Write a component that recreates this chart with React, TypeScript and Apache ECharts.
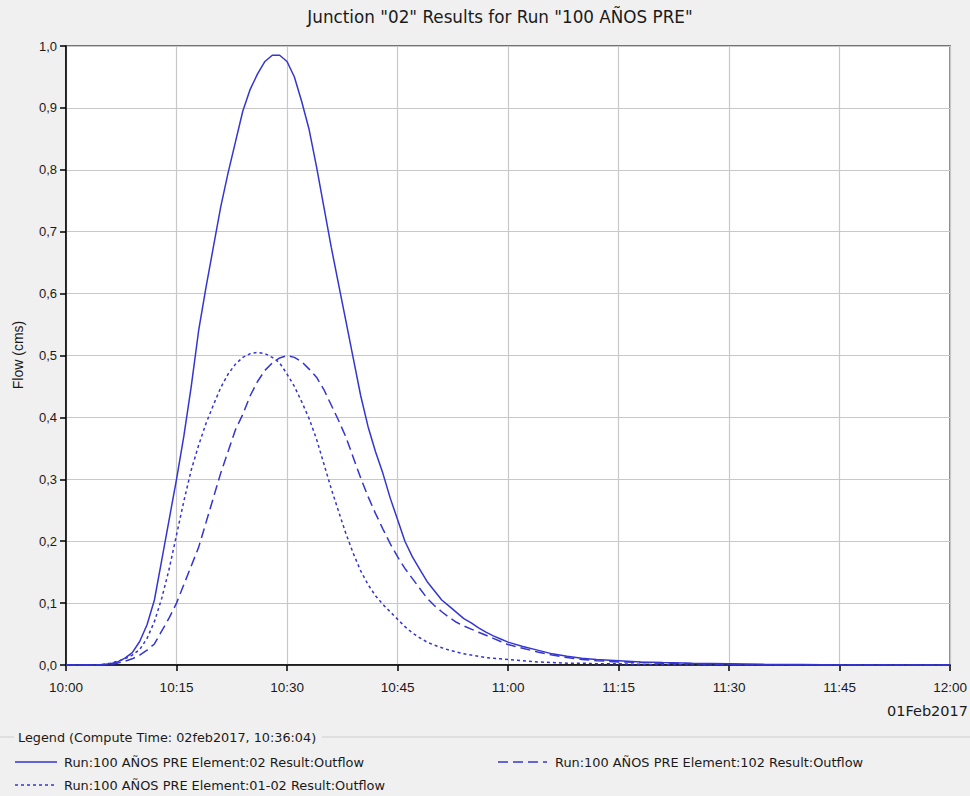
import React, { useEffect, useRef } from "react";
import * as echarts from "echarts";

// Time in minutes after 10:00 (01Feb2017)
const minutes: number[] = [
  0, 1, 2, 3, 4, 5, 6, 7, 8, 9, 10, 11, 12, 13, 14, 15, 16, 17, 18, 19, 20,
  21, 22, 23, 24, 25, 26, 27, 28, 29, 30, 31, 32, 33, 34, 35, 36, 37, 38, 39, 40,
  41, 42, 43, 44, 45, 46, 47, 48, 49, 50, 51, 52, 53, 54, 55, 56, 57, 58, 59, 60,
  62, 64, 66, 68, 70, 72, 75, 78, 81, 85, 90, 95, 100, 105, 120,
];

// Element:02 outflow (solid)
const flow02: number[] = [
  0, 0, 0, 0, 0, 0.001, 0.002, 0.005, 0.011, 0.02, 0.038,
  0.065, 0.105, 0.17, 0.235, 0.3, 0.37, 0.45, 0.54, 0.61, 0.675,
  0.74, 0.795, 0.845, 0.895, 0.93, 0.955, 0.975, 0.985, 0.985, 0.975,
  0.95, 0.91, 0.865, 0.805, 0.74, 0.675, 0.615, 0.555, 0.495, 0.435,
  0.385, 0.345, 0.31, 0.27, 0.235, 0.2, 0.175, 0.155, 0.135, 0.12,
  0.105, 0.095, 0.085, 0.075, 0.068, 0.06, 0.053, 0.047, 0.042, 0.037,
  0.03, 0.024, 0.018, 0.014, 0.011, 0.009, 0.007, 0.005, 0.004, 0.003, 0.002, 0.001, 0.001, 0, 0,
];

// Element:102 outflow (dashed)
const flow102: number[] = [
  0, 0, 0, 0, 0, 0, 0.001, 0.003, 0.006, 0.01, 0.016,
  0.024, 0.034, 0.055, 0.076, 0.1, 0.13, 0.16, 0.19, 0.23, 0.27,
  0.31, 0.345, 0.38, 0.405, 0.435, 0.458, 0.476, 0.488, 0.496, 0.5,
  0.497, 0.49, 0.478, 0.465, 0.445, 0.42, 0.395, 0.368, 0.335, 0.302,
  0.272, 0.245, 0.22, 0.196, 0.175, 0.156, 0.14, 0.124, 0.108, 0.096,
  0.086, 0.077, 0.069, 0.063, 0.058, 0.053, 0.048, 0.043, 0.038, 0.033,
  0.027, 0.021, 0.016, 0.012, 0.009, 0.007, 0.005, 0.004, 0.003, 0.002, 0.001, 0, 0, 0, 0,
];

// Element:01-02 outflow (dotted)
const flow0102: number[] = [
  0, 0, 0, 0, 0, 0.001, 0.003, 0.006, 0.01, 0.016, 0.025,
  0.043, 0.07, 0.108, 0.155, 0.21, 0.265, 0.315, 0.355, 0.39, 0.42,
  0.448, 0.47, 0.486, 0.497, 0.503, 0.505, 0.503, 0.497, 0.488, 0.47,
  0.45, 0.425, 0.398, 0.365, 0.325, 0.285, 0.248, 0.212, 0.18, 0.152,
  0.13, 0.112, 0.098, 0.086, 0.074, 0.062, 0.052, 0.044, 0.037, 0.032,
  0.028, 0.024, 0.021, 0.018, 0.016, 0.014, 0.012, 0.011, 0.01, 0.009,
  0.007, 0.005, 0.004, 0.003, 0.003, 0.002, 0.002, 0.001, 0.001, 0, 0, 0, 0, 0, 0,
];

const titleText = 'Junction "02" Results for Run "100 AÑOS PRE"';
const legendTitle = "Legend (Compute Time: 02feb2017, 10:36:04)";
const seriesNames = [
  "Run:100 AÑOS PRE Element:02 Result:Outflow",
  "Run:100 AÑOS PRE Element:102 Result:Outflow",
  "Run:100 AÑOS PRE Element:01-02 Result:Outflow",
];
const dateLabel = "01Feb2017";
const yAxisName = "Flow (cms)";

const LINE_COLOR = "#3535d2";
const FONT = "'Liberation Sans', Arial, sans-serif";
const WIDE_FONT = "'DejaVu Sans', Verdana, sans-serif";

const pair = (vals: number[]) => minutes.map((m, i) => [m, vals[i]]);

const fmtTime = (m: number) => {
  const h = 10 + Math.floor(m / 60);
  const mm = m % 60;
  return `${h}:${mm < 10 ? "0" + mm : mm}`;
};

export default function App() {
  const ref = useRef<HTMLDivElement>(null);
  useEffect(() => {
    if (!ref.current) return;
    const chart = echarts.init(ref.current, null, { renderer: "svg" });
    const textStyle = { fontFamily: FONT, fill: "#1a1a1a" };
    const wideStyle = { fontFamily: WIDE_FONT, fill: "#1a1a1a" };
    chart.setOption({
      animation: false,
      backgroundColor: "#f0f0f0",
      grid: {
        left: 66,
        top: 46,
        right: 14,
        bottom: 131,
        show: true,
        backgroundColor: "#ffffff",
        borderColor: "#4a4a4a",
        borderWidth: 1.5,
      },
      xAxis: {
        type: "value",
        min: 0,
        max: 120,
        interval: 15,
        axisLine: { show: true, onZero: false, lineStyle: { color: "#000", width: 1.5 } },
        axisTick: { show: true, length: 6, lineStyle: { color: "#000", width: 1.5 } },
        axisLabel: {
          margin: 15,
          color: "#1a1a1a",
          fontSize: 13.5,
          fontFamily: FONT,
          formatter: (v: number) => fmtTime(v),
          showMaxLabel: true,
        },
        splitLine: { show: true, lineStyle: { color: "#c8c8c8", width: 1.2 } },
      },
      yAxis: {
        type: "value",
        min: 0,
        max: 1,
        interval: 0.1,
        axisLine: { show: true, lineStyle: { color: "#000", width: 1.5 } },
        axisTick: { show: true, length: 6, lineStyle: { color: "#000", width: 1.5 } },
        axisLabel: {
          margin: 9,
          color: "#1a1a1a",
          fontSize: 13,
          fontFamily: FONT,
          formatter: (v: number) => v.toFixed(1).replace(".", ","),
        },
        splitLine: { show: true, lineStyle: { color: "#c8c8c8", width: 1.2 } },
      },
      series: [
        {
          name: seriesNames[0],
          type: "line",
          data: pair(flow02),
          showSymbol: false,
          lineStyle: { color: LINE_COLOR, width: 1.5, type: "solid" },
        },
        {
          name: seriesNames[1],
          type: "line",
          data: pair(flow102),
          showSymbol: false,
          lineStyle: { color: LINE_COLOR, width: 1.5, type: [10, 5] },
        },
        {
          name: seriesNames[2],
          type: "line",
          data: pair(flow0102),
          showSymbol: false,
          lineStyle: { color: LINE_COLOR, width: 1.5, type: [3, 3] },
        },
      ],
      graphic: [
        {
          type: "text",
          x: 500,
          y: 17,
          style: { ...wideStyle, text: titleText, fontSize: 16.8, textAlign: "center", textVerticalAlign: "middle" },
        },
        {
          type: "text",
          x: 18,
          y: 355,
          rotation: Math.PI / 2,
          style: { ...textStyle, text: yAxisName, fontSize: 14, textAlign: "center", textVerticalAlign: "middle" },
        },
        {
          type: "text",
          x: 968,
          y: 711,
          style: { ...wideStyle, text: dateLabel, fontSize: 14.5, textAlign: "right", textVerticalAlign: "middle" },
        },
        {
          type: "line",
          shape: { x1: 0, y1: 737, x2: 14, y2: 737 },
          style: { stroke: "#cfcfcf", lineWidth: 1 },
        },
        {
          type: "line",
          shape: { x1: 322, y1: 737, x2: 970, y2: 737 },
          style: { stroke: "#cfcfcf", lineWidth: 1 },
        },
        {
          type: "text",
          x: 18,
          y: 737,
          style: { ...wideStyle, text: legendTitle, fontSize: 12.8, textAlign: "left", textVerticalAlign: "middle" },
        },
        {
          type: "line",
          shape: { x1: 15, y1: 762, x2: 57, y2: 762 },
          style: { stroke: LINE_COLOR, lineWidth: 1.5 },
        },
        {
          type: "text",
          x: 64,
          y: 762,
          style: { ...wideStyle, text: seriesNames[0], fontSize: 12.9, textAlign: "left", textVerticalAlign: "middle" },
        },
        {
          type: "line",
          shape: { x1: 498, y1: 762, x2: 547, y2: 762 },
          style: { stroke: LINE_COLOR, lineWidth: 1.5, lineDash: [10, 5] },
        },
        {
          type: "text",
          x: 555,
          y: 762,
          style: { ...wideStyle, text: seriesNames[1], fontSize: 12.9, textAlign: "left", textVerticalAlign: "middle" },
        },
        {
          type: "line",
          shape: { x1: 15, y1: 785, x2: 57, y2: 785 },
          style: { stroke: LINE_COLOR, lineWidth: 1.5, lineDash: [3, 3] },
        },
        {
          type: "text",
          x: 64,
          y: 785,
          style: { ...wideStyle, text: seriesNames[2], fontSize: 12.9, textAlign: "left", textVerticalAlign: "middle" },
        },
      ],
    });
    return () => chart.dispose();
  }, []);
  return (
    <div
      ref={ref}
      style={{ position: "absolute", left: 0, top: 0, width: 970, height: 796 }}
    />
  );
}
